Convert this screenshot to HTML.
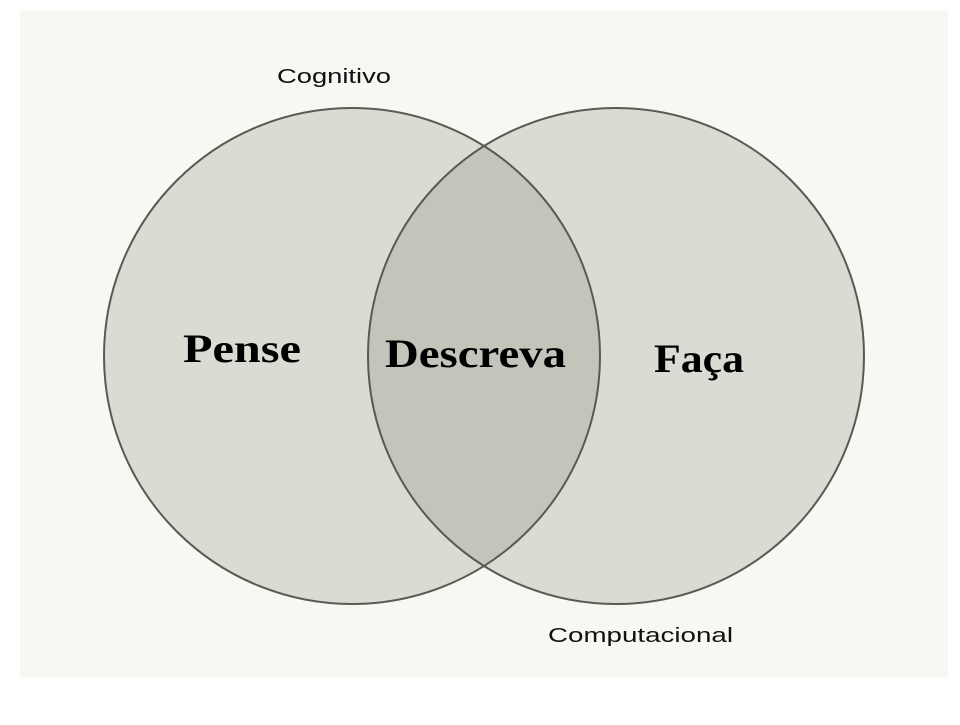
<!DOCTYPE html>
<html><head><style>
html,body{margin:0;padding:0;background:#fff;}
</style></head><body>
<svg width="960" height="720" xmlns="http://www.w3.org/2000/svg">
<rect x="20" y="10" width="928" height="668" fill="#f8f7f3"/>
<defs><clipPath id="cl"><circle cx="352" cy="356" r="248"/></clipPath></defs>
<circle cx="352" cy="356" r="248" fill="#dcdbd3"/>
<circle cx="616" cy="356" r="248" fill="#dcdbd3"/>
<circle cx="616" cy="356" r="248" fill="#c5c4bb" clip-path="url(#cl)"/>
<circle cx="352" cy="356" r="248" fill="none" stroke="#5a5a50" stroke-width="2"/>
<circle cx="616" cy="356" r="248" fill="none" stroke="#5a5a50" stroke-width="2"/>
<g font-family="Liberation Serif, serif" font-weight="bold" font-size="40" fill="#000">
<text x="183" y="362" textLength="118" lengthAdjust="spacingAndGlyphs">Pense</text>
<text x="385" y="367" textLength="181" lengthAdjust="spacingAndGlyphs">Descreva</text>
<text x="654" y="372" textLength="90" lengthAdjust="spacingAndGlyphs">Faça</text>
</g>
<g font-family="Liberation Sans, sans-serif" font-size="20" fill="#111">
<text x="277" y="83" textLength="114" lengthAdjust="spacingAndGlyphs">Cognitivo</text>
<text x="548" y="642" textLength="185" lengthAdjust="spacingAndGlyphs">Computacional</text>
</g>
</svg>
</body></html>
